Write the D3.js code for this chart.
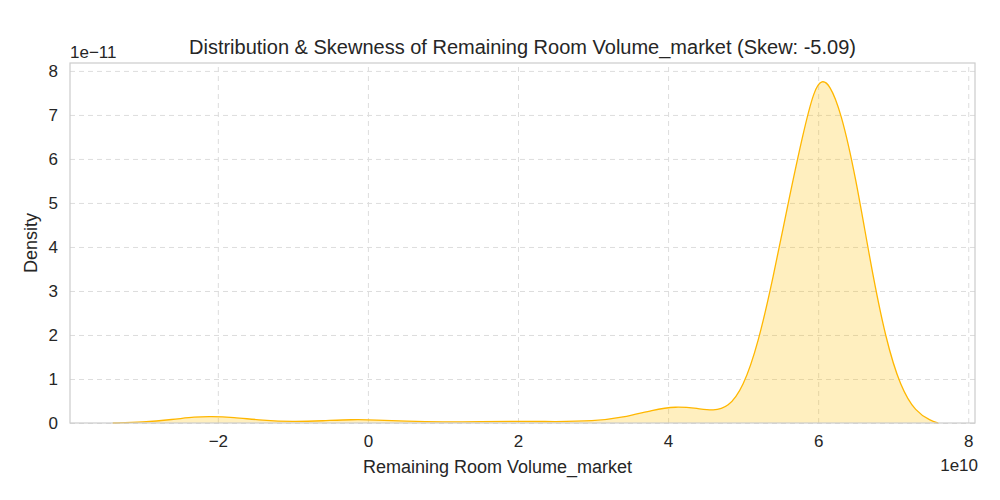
<!DOCTYPE html>
<html><head><meta charset="utf-8">
<script src="https://cdn.jsdelivr.net/npm/d3@7"></script>
<style>
body{margin:0;background:#fff;font-family:"Liberation Sans",Arial,sans-serif;}
.grid line{stroke:#ddd;stroke-dasharray:5,4;}
.grid path{display:none;}
.axis text{font-size:17px;fill:#262626;}
.axis path,.axis line{display:none;}
</style></head><body>
<svg id="chart" width="1000" height="500"></svg>
<script>
// KDE curve (x in 1e10, density in 1e-11)
const xs = [-3.4,-3.0,-2.6,-2.3,-2.1,-1.8,-1.4,-1.0,-0.6,-0.2,0.1,0.5,1.0,1.5,2.0,2.5,3.0,3.4,3.8,4.1,4.4,4.6,4.8,5.0,5.2,5.4,5.6,5.8,5.95,6.05,6.15,6.3,6.5,6.7,6.9,7.1,7.3,7.5,7.6];
const ys = [0,0.02,0.08,0.14,0.15,0.13,0.06,0.03,0.05,0.08,0.07,0.04,0.02,0.03,0.04,0.03,0.04,0.12,0.3,0.38,0.33,0.28,0.35,0.8,1.8,3.3,5.0,6.6,7.6,7.8,7.7,7.1,5.6,3.6,1.9,0.8,0.25,0.05,0];
const xTicks = [-2,0,2,4,6,8];
const yTicks = [0,1,2,3,4,5,6,7,8];

const svg = d3.select("#chart");
const m = {left:70, right:25, top:63, bottom:77};
const W = 1000 - m.left - m.right, H = 500 - m.top - m.bottom;
const x = d3.scaleLinear().domain([-3.97,8.09]).range([0,W]);
const y = d3.scaleLinear().domain([0,8.18]).range([H,0]);
const g = svg.append("g").attr("transform","translate("+m.left+","+m.top+")");

g.append("g").attr("class","grid").attr("transform","translate(0,"+H+")")
  .call(d3.axisBottom(x).tickValues(xTicks).tickSize(-H).tickFormat(""));
g.append("g").attr("class","grid")
  .call(d3.axisLeft(y).tickValues(yTicks).tickSize(-W).tickFormat(""));

const pts = xs.map((v,i)=>[v,ys[i]]);
g.append("path").datum(pts)
  .attr("d", d3.area().x(d=>x(d[0])).y0(y(0)).y1(d=>y(d[1])).curve(d3.curveBasis))
  .attr("fill","#ffbf00").attr("fill-opacity",0.25);
g.append("path").datum(pts)
  .attr("d", d3.line().x(d=>x(d[0])).y(d=>y(d[1])).curve(d3.curveBasis))
  .attr("fill","none").attr("stroke","#ffb700").attr("stroke-width",1.3);

g.append("rect").attr("width",W).attr("height",H).attr("fill","none").attr("stroke","#ccc").attr("stroke-width",1.2);

const fmt = v => v < 0 ? "\u2212" + Math.abs(v) : String(v);
g.append("g").attr("class","axis").attr("transform","translate(0,"+H+")")
  .call(d3.axisBottom(x).tickValues(xTicks).tickSize(0).tickPadding(12).tickFormat(fmt));
g.append("g").attr("class","axis")
  .call(d3.axisLeft(y).tickValues(yTicks).tickSize(0).tickPadding(12).tickFormat(fmt));

svg.append("text").attr("x",m.left+W/2).attr("y",54).attr("text-anchor","middle")
  .attr("font-size",20).attr("fill","#262626")
  .text("Distribution & Skewness of Remaining Room Volume_market (Skew: -5.09)");
svg.append("text").attr("x",m.left+W/2-25).attr("y",473).attr("text-anchor","middle")
  .attr("font-size",18).attr("fill","#262626").text("Remaining Room Volume_market");
svg.append("text").attr("transform","translate(37,"+(m.top+H/2)+") rotate(-90)")
  .attr("text-anchor","middle").attr("font-size",18).attr("fill","#262626").text("Density");
svg.append("text").attr("x",70).attr("y",58).attr("font-size",17).attr("fill","#262626").text("1e\u221211");
svg.append("text").attr("x",978).attr("y",471).attr("text-anchor","end").attr("font-size",17).attr("fill","#262626").text("1e10");
</script></body></html>
